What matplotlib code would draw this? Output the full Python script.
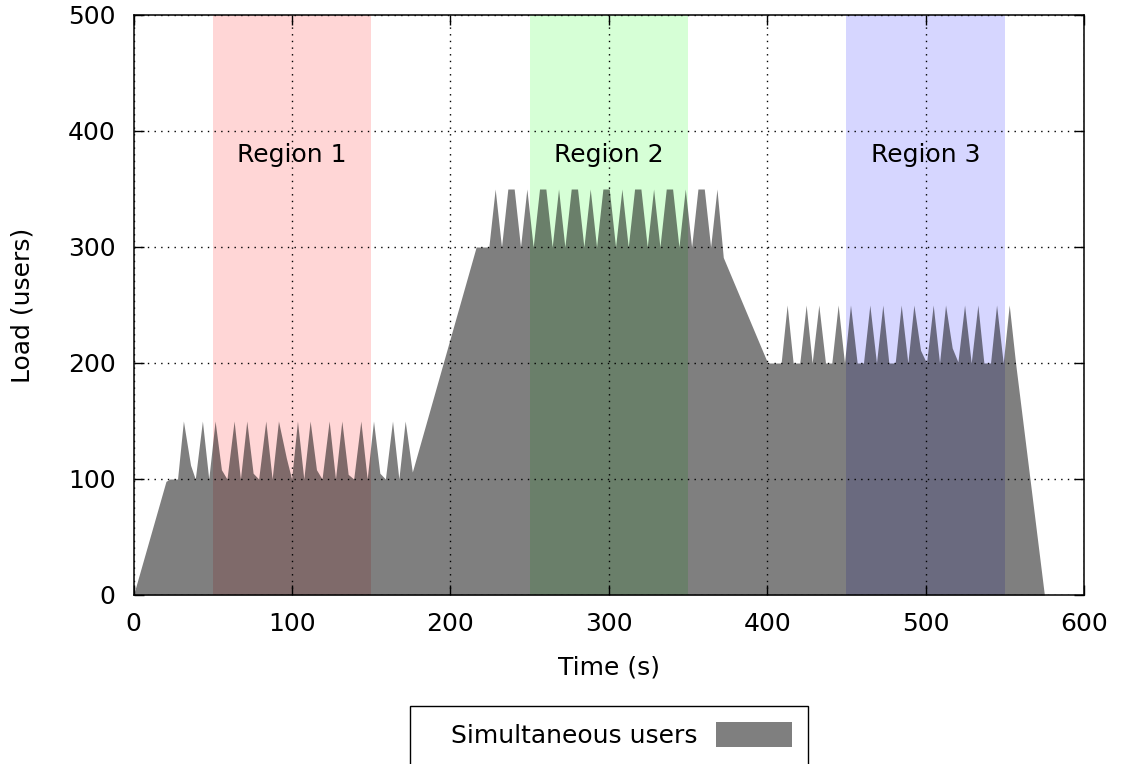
import matplotlib
matplotlib.use("Agg")
import matplotlib.pyplot as plt
from matplotlib.patches import Rectangle

# ---- data ----
time_s = [0, 20.5, 23, 27.8,
          31.5, 36.0, 39.0, 43.5, 47.5, 51.5, 55.5, 59.0, 63.5, 67.5,
          71.5, 75.5, 79.0, 83.5, 87.5, 91.5, 96.5, 99.8, 103.5, 107.5,
          111.5, 115.5, 119.0, 123.5, 127.5, 131.5, 135.5, 139.0, 143.5, 147.5,
          151.5, 155.5, 159.0, 163.5, 167.5, 171.5, 176.0,
          216.3, 220.3, 224.3, 228.3, 232.3, 236.3, 240.3, 244.3, 248.3, 252.3,
          256.3, 260.3, 264.3, 268.3, 272.3, 276.3, 280.3, 284.3, 288.3, 292.3,
          296.3, 300.3, 304.3, 308.3, 312.3, 316.3, 320.3, 324.3, 328.3, 332.3,
          336.3, 340.3, 344.3, 348.3, 352.3, 356.3, 360.3, 364.3, 368.3, 372.3,
          400.3, 404.5, 408.8, 412.6, 416.4, 420.6, 424.6, 428.4, 432.6, 436.8,
          440.8, 444.8, 448.8, 452.6, 456.8, 460.8, 464.8, 469.0, 473.0, 476.8,
          480.8, 484.6, 488.8, 492.6, 496.8, 500.6, 504.8, 508.8, 512.6, 516.8,
          520.4, 524.6, 528.8, 533.0, 536.8, 541.0, 544.8, 549.0, 552.8, 556.8,
          575.0]
users = [0, 98, 100, 100,
         150, 112, 100, 150, 100, 150, 108, 100, 150, 100,
         150, 105, 100, 150, 100, 150, 118, 100, 150, 100,
         150, 108, 100, 150, 100, 150, 104, 100, 150, 100,
         150, 105, 100, 150, 100, 150, 106,
         300, 300, 300, 350, 300, 350, 350, 300, 350, 300,
         350, 350, 300, 350, 300, 350, 350, 300, 350, 300,
         350, 350, 300, 350, 300, 350, 350, 300, 350, 300,
         350, 350, 300, 350, 300, 350, 350, 300, 350, 291,
         200, 200, 200, 250, 200, 200, 250, 200, 250, 200,
         200, 250, 200, 250, 200, 200, 250, 200, 250, 200,
         200, 250, 200, 250, 211, 200, 250, 200, 250, 213,
         201, 250, 200, 250, 200, 200, 250, 200, 250, 200,
         0]

region_labels = ["Region 1", "Region 2", "Region 3"]
region_start = [50, 250, 450]
region_end = [150, 350, 550]
region_colors = ["#ffd6d6", "#d6ffd6", "#d6d6ff"]
region_label_y = 379

x_ticks = [0, 100, 200, 300, 400, 500, 600]
y_ticks = [0, 100, 200, 300, 400, 500]

# ---- figure ----
plt.rcParams['font.family'] = ['DejaVu Sans']
fig = plt.figure(figsize=(11.24, 7.64), dpi=100)
ax = fig.add_axes([133.5 / 1124, 169 / 764, 950.5 / 1124, 580 / 764])

for lab, s, e, c in zip(region_labels, region_start, region_end, region_colors):
    ax.axvspan(s, e, color=c, lw=0, zorder=1)
    ax.text((s + e) / 2, region_label_y, lab, ha='center', va='center',
            fontsize=18, zorder=5)

ax.fill_between(time_s, users, 0, color='black', alpha=0.5, lw=0, zorder=2,
                label='Simultaneous users')

ax.set_xlim(0, 600)
ax.set_ylim(0, 500)
ax.set_xticks(x_ticks)
ax.set_yticks(y_ticks)
ax.grid(True, color='black', linestyle=(0, (1, 3.8)), linewidth=1.0, zorder=3)
ax.set_axisbelow(False)
ax.tick_params(direction='in', length=7, width=1, top=True, right=True,
               labelsize=18)
ax.tick_params(axis='y', pad=13)
ax.tick_params(axis='x', pad=12)
for sp in ax.spines.values():
    sp.set_linewidth(1.1)
    sp.set_zorder(4)

ax.set_xlabel('Time (s)', fontsize=18)
ax.set_ylabel('Load (users)', fontsize=18)
ax.xaxis.set_label_coords(0.5, -0.104)
ax.yaxis.set_label_coords(-0.104, 0.5)

leg = ax.legend(loc='center left', bbox_to_anchor=(451 / 1124, 1 - 735 / 764),
                bbox_transform=fig.transFigure, frameon=False, markerfirst=False,
                handlelength=3.04, handleheight=1.16, handletextpad=0.72,
                borderpad=0, borderaxespad=0, fontsize=18)
fig.add_artist(Rectangle((410 / 1124, -0.02), 398 / 1124, 58 / 764 + 0.02,
                         transform=fig.transFigure, fill=False,
                         edgecolor='black', linewidth=1.0))

fig.savefig('out.png', dpi=100)
